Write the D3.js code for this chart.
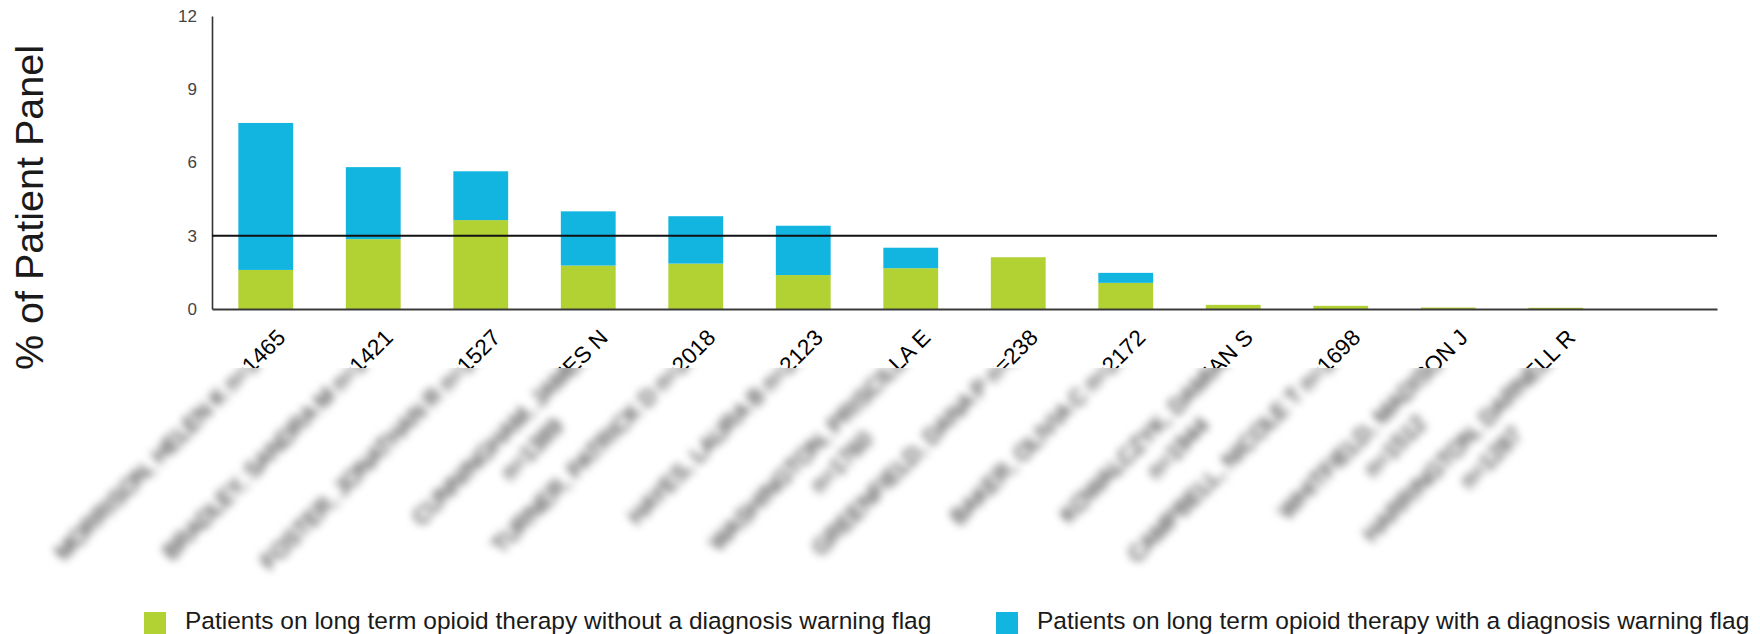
<!DOCTYPE html>
<html>
<head>
<meta charset="utf-8">
<script src="https://cdn.jsdelivr.net/npm/d3@7"></script>
<style>
  html, body { margin: 0; padding: 0; background: #ffffff; }
  svg { display: block; font-family: "Liberation Sans", Arial, sans-serif; }
</style>
</head>
<body>
<svg id="chart" width="1760" height="634"></svg>
<script>
// Provider labels, one entry per bar; inner arrays are wrapped label lines.
const providerLabels = [
  ["MORRISON, HELEN K n=1465"],
  ["BRADLEY, SANDRA M n=1421"],
  ["FOSTER, JONATHAN R n=1527"],
  ["CUNNINGHAM, JAMES N", "n=1389"],
  ["TURNER, PATRICK D n=2018"],
  ["HAYES, LAURA B n=2123"],
  ["WASHINGTON, PRISCILLA E", "n=1760"],
  ["GREENFIELD, DANA P n=238"],
  ["BAKER, OLIVIA C n=2172"],
  ["KOWALCZYK, DAMIAN S", "n=1944"],
  ["CAMPBELL, NICOLE T n=1698"],
  ["WHITFIELD, MADISON J", "n=1512"],
  ["HARRINGTON, DARNELL R", "n=1287"]
];

// % of patient panel on long-term opioid therapy
const withoutFlag = [1.60, 2.86, 3.64, 1.78, 1.86, 1.39, 1.67, 2.12, 1.07, 0.17, 0.13, 0.06, 0.05];
const withFlag    = [6.02, 2.95, 2.00, 2.22, 1.94, 2.02, 0.84, 0.00, 0.41, 0.00, 0.00, 0.00, 0.00];

const seriesNames = [
  "Patients on long term opioid therapy without a diagnosis warning flag",
  "Patients on long term opioid therapy with a diagnosis warning flag"
];
const seriesColors = ["#b2d234", "#12b5e0"];

const yTicks = [0, 3, 6, 9, 12];
const threshold = 3;
const yTitle = "% of Patient Panel";

// ---- layout ----
const svg = d3.select("#chart");
const W = 1760, H = 634;
const plot = { left: 212, right: 1717, top: 16, bottom: 309 };

// one trailing empty slot after the last provider
const slots = d3.range(providerLabels.length + 1);
const x = d3.scaleBand()
  .domain(slots)
  .range([plot.left, plot.right])
  .paddingInner(0.49)
  .paddingOuter(0.245);

const y = d3.scaleLinear().domain([0, 12]).range([plot.bottom, plot.top]);

const rows = providerLabels.map((lines, i) => ({ i, a: withoutFlag[i], b: withFlag[i] }));
const stacked = d3.stack().keys(["a", "b"])(rows);

// ---- defs: blur filter and clip regions for the label block ----
const defs = svg.append("defs");
defs.append("filter")
  .attr("id", "labelBlur")
  .attr("filterUnits", "userSpaceOnUse")
  .attr("x", 0).attr("y", 0).attr("width", W).attr("height", H)
  .append("feGaussianBlur").attr("stdDeviation", 4);

const cutY = 368;
defs.append("clipPath").attr("id", "clipSharp")
  .append("rect").attr("x", 0).attr("y", 0).attr("width", W).attr("height", cutY);
defs.append("clipPath").attr("id", "clipSoft")
  .append("rect").attr("x", 0).attr("y", cutY).attr("width", W).attr("height", H - cutY);

// ---- bars ----
svg.append("g")
  .selectAll("g")
  .data(stacked)
  .join("g")
  .attr("fill", (d, k) => seriesColors[k])
  .selectAll("rect")
  .data(d => d)
  .join("rect")
  .attr("x", d => x(d.data.i))
  .attr("width", x.bandwidth())
  .attr("y", d => y(d[1]))
  .attr("height", d => Math.max(0, y(d[0]) - y(d[1])));

// ---- y axis ----
const yAxis = svg.append("g")
  .attr("transform", `translate(${plot.left},0)`)
  .call(d3.axisLeft(y).tickValues(yTicks).tickSize(0).tickPadding(15));
yAxis.select(".domain").attr("stroke", "#333").attr("stroke-width", 1.6);
yAxis.selectAll("text")
  .attr("font-size", 17)
  .attr("fill", "#444")
  .attr("font-family", "Liberation Sans, Arial, sans-serif");

// ---- x axis baseline ----
const xAxis = svg.append("g")
  .attr("transform", `translate(0,${plot.bottom})`)
  .call(d3.axisBottom(x).tickSize(0).tickFormat(""));
xAxis.select(".domain").attr("stroke", "#3a3a3a").attr("stroke-width", 2);

// ---- threshold line ----
svg.append("line")
  .attr("x1", plot.left).attr("x2", plot.right)
  .attr("y1", y(threshold)).attr("y2", y(threshold))
  .attr("stroke", "#111").attr("stroke-width", 2);

// ---- y title ----
svg.append("text")
  .attr("transform", `translate(43,${(plot.top + plot.bottom) / 2 + 45}) rotate(-90)`)
  .attr("text-anchor", "middle")
  .attr("font-size", 39.5)
  .attr("fill", "#1a1a1a")
  .text(yTitle);

// ---- rotated category labels (drawn twice: sharp above the cut, blurred below) ----
const labelFont = 22.5, lineGap = 31;
function drawLabels(parent) {
  const g = parent.selectAll("g.lbl")
    .data(providerLabels)
    .join("g")
    .attr("class", "lbl")
    .attr("transform", (d, i) => `translate(${x(i) + x.bandwidth() / 2 + 21},339) rotate(-45)`);
  g.each(function (lines) {
    const t = d3.select(this);
    const texts = t.selectAll("text")
      .data(lines)
      .join("text")
      .attr("font-size", labelFont)
      .attr("fill", "#000")
      .attr("text-anchor", "middle")
      .attr("y", (d, k) => k * lineGap)
      .text(d => d);
    const widths = texts.nodes().map(n => n.getComputedTextLength());
    const blockW = d3.max(widths);
    texts.attr("x", -blockW / 2);
  });
}
const sharp = svg.append("g").attr("clip-path", "url(#clipSharp)");
drawLabels(sharp);
const soft = svg.append("g").attr("clip-path", "url(#clipSoft)")
  .append("g").attr("filter", "url(#labelBlur)");
drawLabels(soft);

// ---- legend ----
const legendX = [144, 996];
const legend = svg.append("g")
  .selectAll("g")
  .data(seriesNames)
  .join("g")
  .attr("transform", (d, k) => `translate(${legendX[k]},612)`);
legend.append("rect")
  .attr("width", 22).attr("height", 24)
  .attr("fill", (d, k) => seriesColors[k]);
legend.append("text")
  .attr("x", 41).attr("y", 16.5)
  .attr("font-size", 24.5)
  .attr("fill", "#1a1a1a")
  .text(d => d);
</script>
</body>
</html>
